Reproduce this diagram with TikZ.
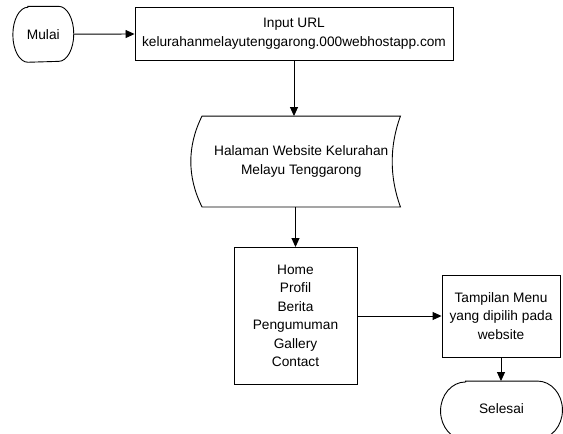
\documentclass[tikz,border=0pt]{standalone}
\usepackage{fontspec}
\setmainfont{Liberation Sans}
\usetikzlibrary{shapes,arrows,arrows.meta,positioning}

\tikzset{
  terminal/.style={align=center, inner sep=0pt},
  prosesbox/.style={draw, align=center, inner sep=0pt},
  panah/.style={-{Triangle[length=9pt, width=8pt]}},
}

\begin{document}
\begin{tikzpicture}[x=1pt, y=-1pt, line width=0.9pt, font=\fontsize{13.7}{18.5}\selectfont]
\useasboundingbox (0,0) rectangle (563,434);
\clip (0,0) rectangle (563,434);

% Start and input
\node[terminal, minimum width=60pt, minimum height=55pt] (mulai) at (43.3,34.3) {Mulai};
\draw ([xshift=15pt]mulai.north west) -- ([xshift=-15pt]mulai.north east)
    arc[start angle=90, end angle=-90, x radius=15pt, y radius=27.5pt]
    -- ([xshift=15pt]mulai.south west)
    arc[start angle=270, end angle=90, x radius=15pt, y radius=27.5pt] -- cycle;
\node[prosesbox, minimum width=318pt, minimum height=53pt] (input) at (294,33.5)
    {Input URL\\kelurahanmelayutenggarong.000webhostapp.com};

% Stored data shape
\node[align=center, inner sep=0pt, minimum width=197.5pt, minimum height=90pt] (halaman) at (301.25,161.5)
    {Halaman Website Kelurahan\\Melayu Tenggarong};
\draw (halaman.north west) .. controls +(-15,30) and +(-15,-30) .. (halaman.south west)
    -- (halaman.south east) .. controls +(-11,-30) and +(-11,30) .. (halaman.north east) -- cycle;

% Menu
\node[prosesbox, minimum width=123pt, minimum height=137pt] (menu) at (295.5,316)
    {Home\\Profil\\Berita\\Pengumuman\\Gallery\\Contact};
\node[prosesbox, minimum width=118pt, minimum height=82pt] (tampilan) at (501,316)
    {Tampilan Menu\\yang dipilih pada\\website};

% End
\node[terminal, minimum width=121pt, minimum height=58pt] (selesai) at (501.5,410.5)
    {\raisebox{2pt}[\height][\depth]{Selesai}};
\draw ([xshift=25pt]selesai.north west) -- ([xshift=-25pt]selesai.north east)
    arc[start angle=90, end angle=-90, x radius=25pt, y radius=29pt]
    -- ([xshift=25pt]selesai.south west)
    arc[start angle=270, end angle=90, x radius=25pt, y radius=29pt] -- cycle;

% Arrows
\draw[panah] (mulai) -- (input);
\draw[panah] (input.south) -- (input.south |- halaman.north);
\draw[panah] (menu.north |- halaman.south) -- (menu.north);
\draw[panah] (menu) -- (tampilan);
\draw[panah] (tampilan.south) -- (tampilan.south |- selesai.north);

\end{tikzpicture}
\end{document}
